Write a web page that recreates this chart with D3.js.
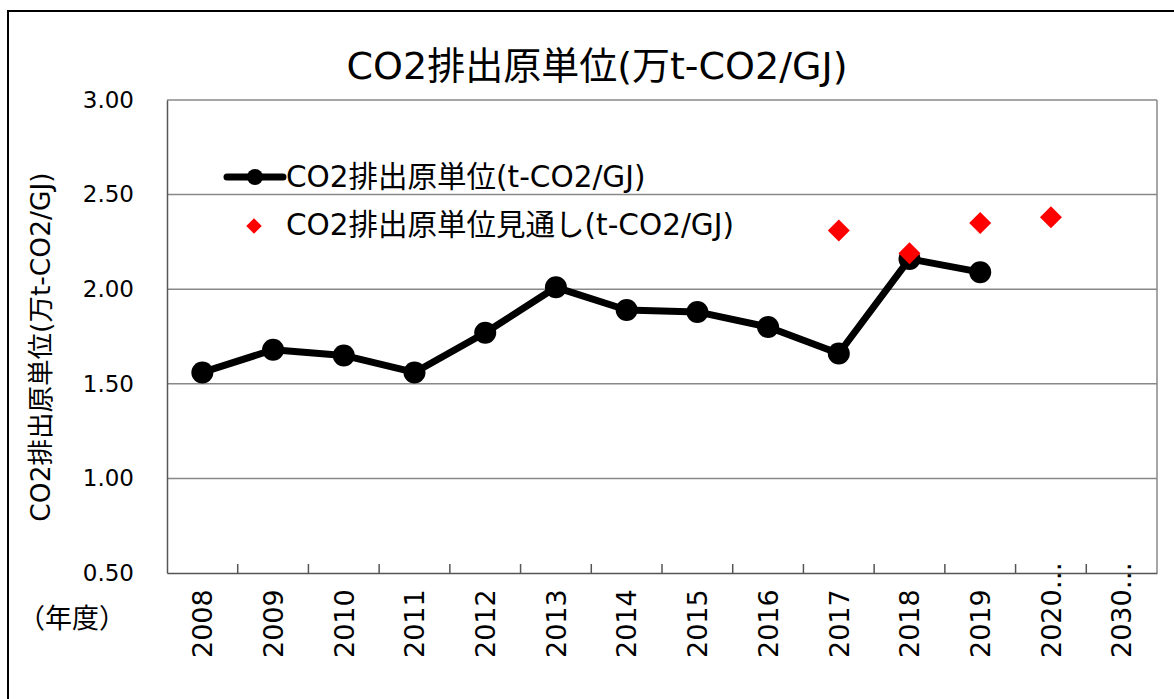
<!DOCTYPE html>
<html>
<head>
<meta charset="utf-8">
<script src="https://cdn.jsdelivr.net/npm/d3@7"></script>
<style>
body { margin:0; background:#fff; }
text { font-family: "DejaVu Sans", "Noto Sans CJK JP", sans-serif; fill:#000; }
</style>
</head>
<body>
<svg id="chart" width="1174" height="699"></svg>
<script>
var years = ['2008','2009','2010','2011','2012','2013','2014','2015','2016','2017','2018','2019','2020…','2030…'];
var actual = [1.56, 1.68, 1.65, 1.56, 1.77, 2.01, 1.89, 1.88, 1.80, 1.66, 2.16, 2.09, null, null];
var outlook = [null, null, null, null, null, null, null, null, null, 2.31, 2.19, 2.35, 2.38, null];
var yTicks = [0.5, 1.0, 1.5, 2.0, 2.5, 3.0];

var svg = d3.select("#chart");
var pLeft = 167, pRight = 1157, pTop = 100, pBottom = 573;

// outer frame
svg.append("rect").attr("x", 8).attr("y", 11).attr("width", 1180).attr("height", 700)
    .style("fill", "none").style("stroke", "#000").style("stroke-width", 2);

var x = d3.scaleBand().domain(years).range([pLeft, pRight]);
var y = d3.scaleLinear().domain([0.5, 3.0]).range([pBottom, pTop]);

// gridlines
svg.append("g").selectAll("line").data(yTicks.slice(1))
    .enter().append("line")
    .attr("x1", pLeft).attr("x2", pRight)
    .attr("y1", function(d) { return y(d); }).attr("y2", function(d) { return y(d); })
    .style("stroke", "#888").style("stroke-width", 1.5);

svg.append("line").attr("x1", pRight).attr("x2", pRight).attr("y1", pTop).attr("y2", pBottom)
    .style("stroke", "#888").style("stroke-width", 1.5);

// y axis
var yAxis = svg.append("g").attr("transform", "translate(" + pLeft + ",0)")
    .call(d3.axisLeft(y).tickValues(yTicks).tickFormat(d3.format(".2f")).tickSize(0).tickPadding(33));
yAxis.select(".domain").style("stroke", "#555").style("stroke-width", 1.5);
yAxis.selectAll("text").style("font-size", "23px").style("font-family", "'DejaVu Sans'");

// x axis with boundary ticks
var xAxis = svg.append("g").attr("transform", "translate(0," + pBottom + ")")
    .call(d3.axisBottom(x).tickSize(0).tickPadding(0));
xAxis.select(".domain").style("stroke", "#555").style("stroke-width", 1.5);
xAxis.selectAll(".tick text")
    .style("font-size", "27px").style("font-family", "'DejaVu Sans'")
    .attr("transform", "rotate(-90)")
    .attr("text-anchor", "start")
    .attr("x", -85).attr("y", 0).attr("dy", "0.36em");
svg.append("g").selectAll("line").data(years.slice(1))
    .enter().append("line")
    .attr("x1", function(d) { return x(d); }).attr("x2", function(d) { return x(d); })
    .attr("y1", pBottom - 9).attr("y2", pBottom)
    .style("stroke", "#555").style("stroke-width", 1.5);

// titles
svg.append("text").attr("x", 597).attr("y", 79).attr("text-anchor", "middle")
    .style("font-size", "38px").text("CO2排出原単位(万t-CO2/GJ)");
svg.append("text").attr("transform", "translate(50,347) rotate(-90)").attr("text-anchor", "middle")
    .style("font-size", "26.5px").text("CO2排出原単位(万t-CO2/GJ)");
svg.append("text").attr("x", 18).attr("y", 628).style("font-size", "27px")
    .style("font-family", "'Noto Sans CJK JP'").text("（年度）");

// actual line
var pts = years.map(function(d, i) { return {k: d, v: actual[i]}; }).filter(function(d) { return d.v !== null; });
var line = d3.line().x(function(d) { return x(d.k) + x.bandwidth() / 2; }).y(function(d) { return y(d.v); });
svg.append("path").datum(pts).attr("d", line)
    .style("fill", "none").style("stroke", "#000").style("stroke-width", 7).style("stroke-linejoin", "round");
svg.append("g").selectAll("circle").data(pts).enter().append("circle")
    .attr("cx", function(d) { return x(d.k) + x.bandwidth() / 2; })
    .attr("cy", function(d) { return y(d.v); })
    .attr("r", 11).style("fill", "#000");

// outlook diamonds
var opts = years.map(function(d, i) { return {k: d, v: outlook[i]}; }).filter(function(d) { return d.v !== null; });
var diamond = d3.symbol().type(d3.symbolSquare).size(242);
svg.append("g").selectAll("path").data(opts).enter().append("path")
    .attr("d", diamond)
    .attr("transform", function(d) { return "translate(" + (x(d.k) + x.bandwidth() / 2) + "," + y(d.v) + ") rotate(45)"; })
    .style("fill", "#ff0000");

// legend
var lg = svg.append("g");
lg.append("line").attr("x1", 227).attr("x2", 283).attr("y1", 177).attr("y2", 177)
    .style("stroke", "#000").style("stroke-width", 7).style("stroke-linecap", "round");
lg.append("circle").attr("cx", 255).attr("cy", 177).attr("r", 8).style("fill", "#000");
lg.append("text").attr("x", 286).attr("y", 187).style("font-size", "29.5px").text("CO2排出原単位(t-CO2/GJ)");
lg.append("path").attr("d", d3.symbol().type(d3.symbolSquare).size(120))
    .attr("transform", "translate(254,226) rotate(45)").style("fill", "#ff0000");
lg.append("text").attr("x", 286).attr("y", 235).style("font-size", "29.5px").text("CO2排出原単位見通し(t-CO2/GJ)");
</script>
</body>
</html>
